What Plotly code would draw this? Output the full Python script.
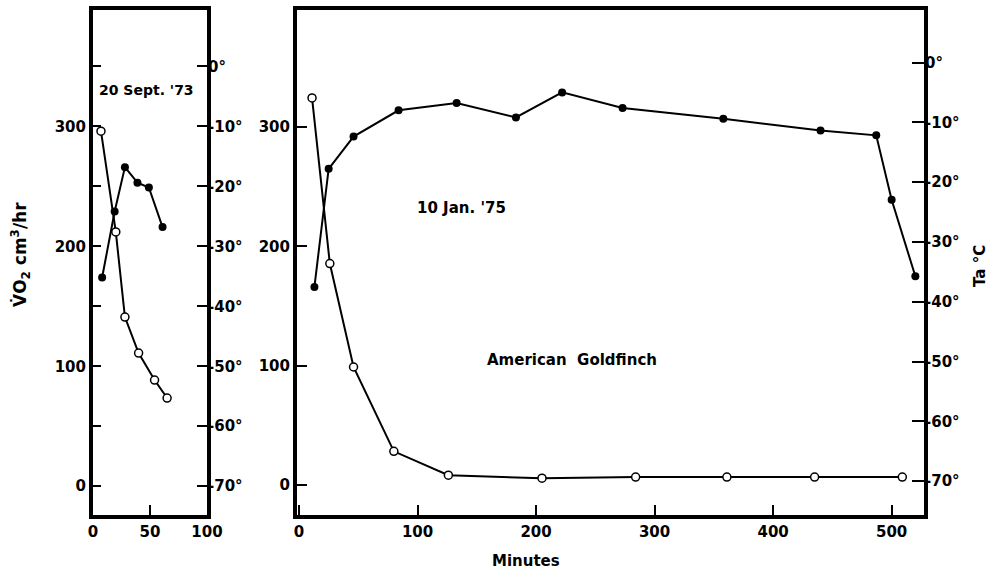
import plotly.graph_objects as go

W, H = 995, 570

# ---- Data: 20 Sept. '73 (left panel) ----
sep_vo2_min = [8, 19, 28, 39, 49, 61]
sep_vo2 = [174, 229, 266, 253, 249, 216]
sep_ta_min = [7, 20, 28, 40, 54, 65]
sep_ta = [-10.8, -27.6, -41.8, -47.8, -52.3, -55.3]

# ---- Data: 10 Jan. '75 (right panel) ----
jan_vo2_min = [13, 25, 46, 84, 133, 183, 222, 273, 358, 440, 487, 500, 520]
jan_vo2 = [166, 265, 292, 314, 320, 308, 329, 316, 307, 297, 293, 239, 175]
jan_ta_min = [11, 26, 46, 80, 126, 205, 284, 361, 435, 509]
jan_ta = [-5.9, -33.6, -50.9, -65.0, -69.0, -69.5, -69.3, -69.3, -69.3, -69.3]

vo2_ticks = [0, 100, 200, 300]
vo2_minor = [50, 150, 250, 350]
ta_ticks = [0, -10, -20, -30, -40, -50, -60, -70]
ta_labels = [f"{t}°" for t in ta_ticks]

FONT = "DejaVu Sans"
tickfont = dict(family=FONT, size=15, color="black", weight="bold")

def px_x(a, b):
    return [a / W, b / W]

ydom = [1 - 515 / H, 1 - 10 / H]

fig = go.Figure()

line = dict(color="black", width=2)
fig.add_trace(go.Scatter(x=sep_vo2_min, y=sep_vo2, mode="lines+markers", line=line,
                         marker=dict(size=8, color="black"), xaxis="x", yaxis="y"))
fig.add_trace(go.Scatter(x=sep_ta_min, y=sep_ta, mode="lines+markers", line=line,
                         marker=dict(size=8, color="white", line=dict(color="black", width=1.5)),
                         xaxis="x", yaxis="y2"))
fig.add_trace(go.Scatter(x=jan_vo2_min, y=jan_vo2, mode="lines+markers", line=line,
                         marker=dict(size=8, color="black"), xaxis="x2", yaxis="y3"))
fig.add_trace(go.Scatter(x=jan_ta_min, y=jan_ta, mode="lines+markers", line=line,
                         marker=dict(size=8, color="white", line=dict(color="black", width=1.5)),
                         xaxis="x2", yaxis="y4"))

frame = dict(showline=True, linecolor="black", linewidth=4, mirror=True,
             showgrid=False, zeroline=False, automargin=False)

fig.update_layout(
    width=W, height=H,
    margin=dict(l=0, r=0, t=0, b=0, autoexpand=False),
    paper_bgcolor="white", plot_bgcolor="white",
    showlegend=False,
    xaxis=dict(domain=px_x(93, 207), range=[0, 100], anchor="y",
               tickvals=[0, 50, 100], ticks="inside", ticklen=10, tickwidth=2,
               tickcolor="black", tickfont=tickfont, **frame),
    xaxis2=dict(domain=px_x(297, 924), range=[-1.7, 527.3], anchor="y3",
                tickvals=[0, 100, 200, 300, 400, 500], ticks="inside", ticklen=10,
                tickwidth=2, tickcolor="black", tickfont=tickfont, **frame),
    xaxis3=dict(domain=px_x(207, 297), range=[0, 1], anchor="y", showticklabels=False,
                ticks="", **frame),
    yaxis=dict(domain=ydom, range=[-24, 397], anchor="x",
               tickvals=vo2_ticks, ticks="inside", ticklen=8, tickwidth=2, tickcolor="black",
               minor=dict(tickvals=vo2_minor, ticks="inside", ticklen=8, tickwidth=2,
                          tickcolor="black"),
               tickfont=tickfont, **frame),
    yaxis2=dict(overlaying="y", anchor="x", side="right", range=[-74.8, 9.4],
                tickvals=ta_ticks, ticktext=ta_labels, ticks="inside", ticklen=10,
                tickwidth=2, tickcolor="black", tickfont=tickfont, automargin=False,
                showgrid=False, zeroline=False, showline=False),
    yaxis3=dict(domain=ydom, range=[-25, 398], anchor="x2",
                tickvals=vo2_ticks, ticks="inside", ticklen=10, tickwidth=2,
                tickcolor="black", tickfont=tickfont, **frame),
    yaxis4=dict(overlaying="y3", anchor="x2", side="right", range=[-75.65, 8.8],
                tickvals=ta_ticks, ticktext=ta_labels, ticks="inside", ticklen=12,
                tickwidth=2, tickcolor="black", tickfont=tickfont, automargin=False,
                showgrid=False, zeroline=False, showline=False),
)

ann_font = dict(family=FONT, size=14, color="black", weight="bold")
ann_font15 = dict(family=FONT, size=15, color="black", weight="bold")
fig.add_annotation(text="20 Sept. '73", x=97 / W, y=1 - 90 / H, xref="paper", yref="paper",
                   xanchor="left", yanchor="middle", showarrow=False, font=ann_font)
fig.add_annotation(text="10 Jan. '75", x=415 / W, y=1 - 208 / H, xref="paper", yref="paper",
                   xanchor="left", yanchor="middle", showarrow=False, font=ann_font15)
fig.add_annotation(text="American  Goldfinch", x=485 / W, y=1 - 360 / H, xref="paper",
                   yref="paper", xanchor="left", yanchor="middle", showarrow=False,
                   font=ann_font15)
fig.add_annotation(text="Minutes", x=526 / W, y=1 - 561 / H, xref="paper", yref="paper",
                   xanchor="center", yanchor="middle", showarrow=False,
                   font=dict(family=FONT, size=15, color="black", weight="bold"))
fig.add_annotation(text="V̇O<sub>2</sub> cm<sup>3</sup>/hr", x=20 / W, y=1 - 255 / H,
                   xref="paper", yref="paper", textangle=-90, xanchor="center",
                   yanchor="middle", showarrow=False,
                   font=dict(family=FONT, size=17, color="black", weight="bold"))
fig.add_annotation(text="Ta °C", x=980 / W, y=1 - 266 / H, xref="paper", yref="paper",
                   textangle=-90, xanchor="center", yanchor="middle", showarrow=False,
                   font=dict(family=FONT, size=15, color="black", weight="bold"))

fig.write_html("out.html")
